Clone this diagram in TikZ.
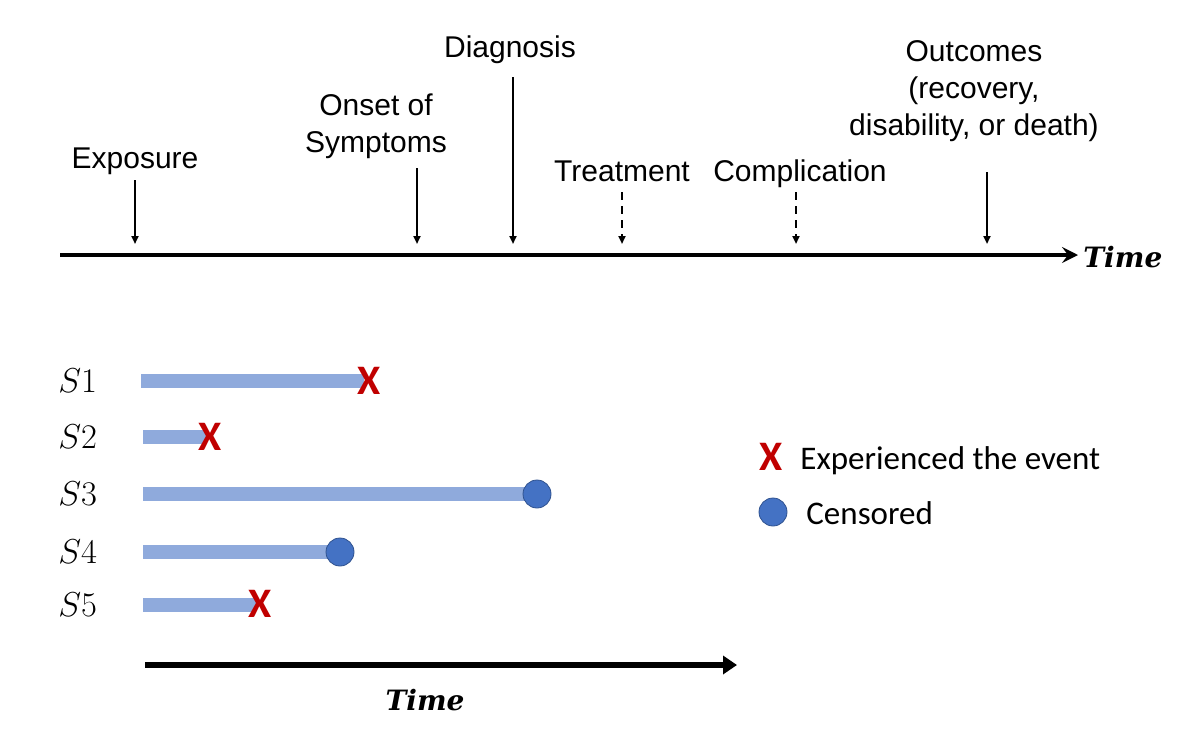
\documentclass[tikz,border=0pt]{standalone}
\usepackage{fontspec}
\setmainfont{Liberation Sans}
\newfontfamily\carlito{Carlito}
\newfontfamily\timefont{DejaVu Serif}
\usetikzlibrary{arrows.meta}
\definecolor{barblue}{HTML}{8FAADC}
\definecolor{dotblue}{HTML}{4472C4}
\definecolor{dotedge}{HTML}{2F528F}
\definecolor{xred}{HTML}{C00000}
\begin{document}
\begin{tikzpicture}[x=0.5pt,y=-0.5pt,
  lbl/.style={font=\fontsize{15}{18.5}\selectfont, align=center, inner sep=0pt, anchor=base},
  evarrow/.style={line width=1pt, -{Triangle[length=4pt,width=3.5pt]}},
  dasharrow/.style={evarrow, dash pattern=on 4pt off 3pt},
  axis/.style={line width=2pt, -{Stealth[length=8pt,width=8pt,inset=3pt]}},
  axisb/.style={line width=3pt, -{Triangle[length=7pt,width=9pt]}},
  timelbl/.style={font=\timefont\bfseries\itshape\fontsize{14}{16}\selectfont, inner sep=0pt},
  subj/.style={font=\fontsize{16}{18}\selectfont, inner sep=0pt, anchor=base west},
  bar/.style={line width=7pt, draw=barblue},
  xmark/.style={font=\carlito\bfseries\fontsize{21}{24}\selectfont, text=xred, inner sep=0pt},
  dot/.style={circle, fill=dotblue, draw=dotedge, line width=0.4pt, minimum size=14pt, inner sep=0pt},
  legtxt/.style={font=\carlito\fontsize{16.5}{20}\selectfont, inner sep=0pt, anchor=base west},
]
\useasboundingbox (0,0) rectangle (1200,750);
% top time axis
\coordinate (ax0) at (60,255);
\coordinate (ax1) at (1078,255);
\draw[axis] (ax0) -- (ax1);
\node[timelbl, anchor=base west] (time1) at (1083,267) {Time};
% events
\node[lbl] (exp) at (135,168) {Exposure};
\coordinate (expA) at (135,180); \coordinate (expB) at (135,244);
\draw[evarrow] (expA) -- (expB);
\node[lbl] (ons) at (376,152) {Onset of\\Symptoms};
\coordinate (onsA) at (417,168); \coordinate (onsB) at (417,244);
\draw[evarrow] (onsA) -- (onsB);
\node[lbl] (dia) at (510,57) {Diagnosis};
\coordinate (diaA) at (513,77); \coordinate (diaB) at (513,244);
\draw[evarrow] (diaA) -- (diaB);
\node[lbl] (tre) at (622,181) {Treatment};
\coordinate (treA) at (622,192); \coordinate (treB) at (622,244);
\draw[dasharrow] (treA) -- (treB);
\node[lbl] (com) at (800,181) {Complication};
\coordinate (comA) at (796,192); \coordinate (comB) at (796,244);
\draw[dasharrow] (comA) -- (comB);
\node[lbl] (out) at (974,135) {Outcomes\\(recovery,\\disability, or death)};
\coordinate (outA) at (987,172); \coordinate (outB) at (987,244);
\draw[evarrow] (outA) -- (outB);
% subjects
\node[subj] (s1) at (58,392) {$S1$};
\node[subj] (s2) at (58,448) {$S2$};
\node[subj] (s3) at (58,505) {$S3$};
\node[subj] (s4) at (58,563) {$S4$};
\node[subj] (s5) at (58,616) {$S5$};
\coordinate (b1) at (141,381); \coordinate (e1) at (364,381);
\coordinate (b2) at (143,437); \coordinate (e2) at (206,437);
\coordinate (b3) at (143,494); \coordinate (e3) at (535,494);
\coordinate (b4) at (143,552); \coordinate (e4) at (340,552);
\coordinate (b5) at (143,605); \coordinate (e5) at (256,605);
\draw[bar] (b1) -- (e1);
\draw[bar] (b2) -- (e2);
\draw[bar] (b3) -- (e3);
\draw[bar] (b4) -- (e4);
\draw[bar] (b5) -- (e5);
\node[xmark] (x1) at (369,381) {X};
\node[xmark] (x2) at (210,437) {X};
\node[dot] (d3) at (537,494) {};
\node[dot] (d4) at (340,552) {};
\node[xmark] (x5) at (260,604) {X};
% legend
\node[xmark] (lx) at (771,457) {X};
\node[legtxt] (lxt) at (800,469) {Experienced the event};
\node[dot] (ld) at (773,512) {};
\node[legtxt] (ldt) at (806,524) {Censored};
% bottom time axis
\coordinate (bx0) at (145,665);
\coordinate (bx1) at (737,665);
\draw[axisb] (bx0) -- (bx1);
\node[timelbl, anchor=base] (time2) at (425,710) {Time};
\end{tikzpicture}
\end{document}
